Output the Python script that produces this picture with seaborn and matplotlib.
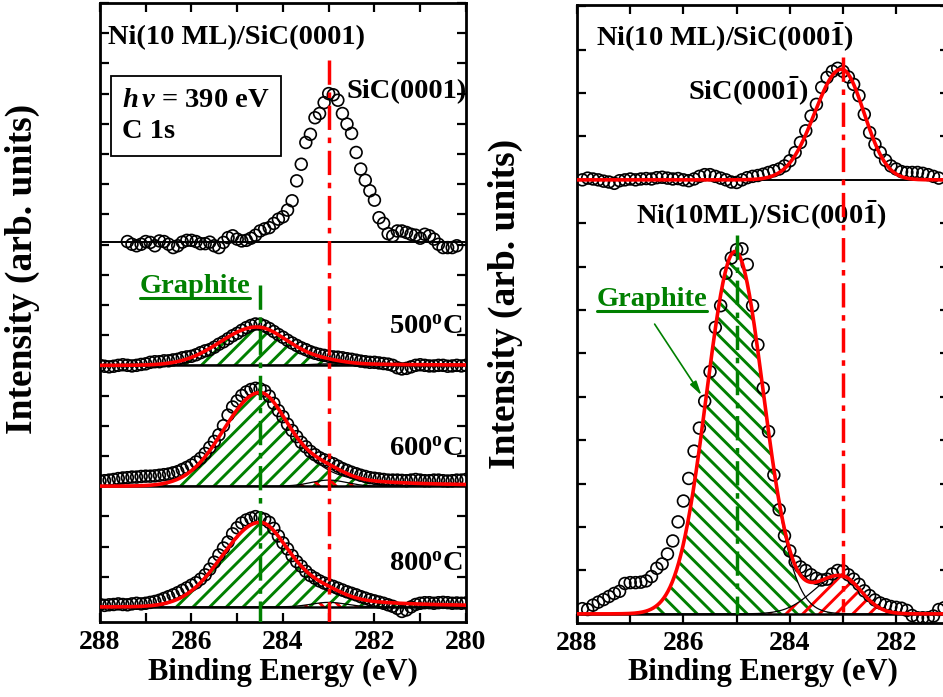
import numpy as np
import pandas as pd
import matplotlib
matplotlib.use("Agg")
import matplotlib.pyplot as plt
import seaborn as sns
from matplotlib.lines import Line2D
from matplotlib.ticker import MultipleLocator

# ------------------------------------------------------------------
# values
# energies in eV, intensities in arb. units above each baseline
# ------------------------------------------------------------------

# left panel: Ni(10 ML)/SiC(0001)
clean_start, clean_stop = 287.4, 280.2
clean_counts = [
    0.0, -0.09, -0.14, -0.09, 0.0, -0.03, -0.14, 0.02, 0.0, -0.09,
    -0.2, -0.14, -0.02, 0.04, 0.04, 0.0, -0.07, -0.07, -0.02, -0.14,
    -0.2, -0.03, 0.13, 0.19, 0.08, 0.02, 0.04, 0.11, 0.21, 0.35,
    0.42, 0.46, 0.6, 0.74, 0.82, 1.04, 1.35, 2.01, 2.56, 3.28,
    3.55, 4.1, 4.24, 4.6, 4.9, 4.86, 4.68, 4.24, 3.89, 3.58,
    2.95, 2.4, 2.03, 1.68, 1.37, 0.79, 0.6, 0.26, 0.19, 0.35,
    0.35, 0.3, 0.24, 0.21, 0.11, 0.24, 0.19, 0.08, -0.09, -0.2,
    -0.2, -0.2, -0.14,
]
clean_offset = 12.1

anneal_start, anneal_stop = 288.0, 280.0
counts_500 = [
    0.0, -0.03, -0.05, -0.03, 0.0, 0.02, 0.0, -0.02, 0.0, 0.03,
    0.05, 0.1, 0.12, 0.12, 0.15, 0.15, 0.18, 0.2, 0.25, 0.28,
    0.3, 0.35, 0.42, 0.48, 0.52, 0.6, 0.7, 0.78, 0.88, 0.98,
    1.06, 1.16, 1.25, 1.32, 1.37, 1.36, 1.3, 1.22, 1.12, 1.02,
    0.93, 0.83, 0.74, 0.66, 0.58, 0.52, 0.45, 0.4, 0.36, 0.33,
    0.3, 0.28, 0.27, 0.25, 0.22, 0.2, 0.17, 0.14, 0.12, 0.1,
    0.1, 0.08, 0.06, 0.04, 0.0, -0.08, -0.12, -0.1, -0.05, 0.0,
    0.02, 0.0, -0.02, -0.02, 0.0, 0.0, -0.03, -0.02, 0.0, -0.02,
    0.0,
]
counts_600 = [
    0.17, 0.18, 0.2, 0.22, 0.25, 0.27, 0.28, 0.3, 0.3, 0.32,
    0.33, 0.33, 0.34, 0.36, 0.38, 0.4, 0.44, 0.48, 0.55, 0.62,
    0.7, 0.8, 0.92, 1.08, 1.28, 1.48, 1.7, 2.0, 2.35, 2.62,
    2.82, 3.0, 3.12, 3.2, 3.24, 3.22, 3.15, 2.98, 2.74, 2.5,
    2.3, 2.05, 1.84, 1.64, 1.45, 1.3, 1.15, 1.04, 0.94, 0.87,
    0.8, 0.74, 0.66, 0.58, 0.52, 0.46, 0.41, 0.36, 0.32, 0.28,
    0.26, 0.24, 0.22, 0.2, 0.2, 0.2, 0.19, 0.18, 0.2, 0.22,
    0.2, 0.18, 0.18, 0.2, 0.2, 0.18, 0.17, 0.18, 0.2, 0.2,
    0.22,
]
counts_800 = [
    0.08, 0.05, 0.07, 0.08, 0.1, 0.08, 0.07, 0.1, 0.12, 0.1,
    0.12, 0.15, 0.18, 0.22, 0.28, 0.34, 0.4, 0.47, 0.55, 0.63,
    0.72, 0.8, 0.92, 1.06, 1.25, 1.48, 1.72, 1.95, 2.15, 2.42,
    2.62, 2.78, 2.88, 2.94, 2.99, 2.95, 2.9, 2.8, 2.6, 2.35,
    2.12, 1.92, 1.7, 1.5, 1.35, 1.18, 1.04, 0.95, 0.86, 0.79,
    0.73, 0.68, 0.62, 0.56, 0.5, 0.45, 0.4, 0.34, 0.29, 0.24,
    0.2, 0.16, 0.12, 0.07, 0.02, -0.05, -0.15, -0.1, 0.0, 0.08,
    0.12, 0.14, 0.14, 0.12, 0.14, 0.15, 0.14, 0.12, 0.13, 0.12,
    0.13,
]
anneal_labels = ["500$^{\\mathrm{o}}$C", "600$^{\\mathrm{o}}$C", "800$^{\\mathrm{o}}$C"]
anneal_offsets = [8.0, 4.0, 0.0]

# fit components: center, height, hwhm (high BE side), hwhm (low BE side), lorentz fraction
graphite_fits = [
    (284.57, 1.27, 0.95, 0.85, 0.3),
    (284.50, 3.10, 0.93, 0.82, 0.55),
    (284.50, 2.80, 0.97, 0.85, 0.6),
]
sic_fits = [
    (283.0, 0.05, 0.45, 0.45, 0.0),
    (283.0, 0.20, 0.45, 0.45, 0.0),
    (283.0, 0.15, 0.45, 0.45, 0.0),
]

# right panel: Ni(10 ML)/SiC(000-1)
top_start, top_stop = 287.9, 281.2
top_counts = [
    0.0, 0.04, 0.02, 0.0, -0.03, -0.05, -0.08, -0.02, 0.0, 0.02,
    0.0, 0.02, 0.03, 0.02, 0.05, 0.06, 0.04, 0.02, 0.03, 0.0,
    -0.02, 0.02, 0.08, 0.12, 0.12, 0.08, 0.04, 0.0, -0.05, -0.06,
    0.0, 0.05, 0.08, 0.1, 0.13, 0.17, 0.21, 0.25, 0.32, 0.44,
    0.63, 0.86, 1.13, 1.47, 1.74, 2.13, 2.36, 2.5, 2.57, 2.5,
    2.37, 2.2, 1.94, 1.51, 1.09, 0.82, 0.63, 0.45, 0.32, 0.25,
    0.19, 0.17, 0.17, 0.17, 0.15, 0.12, 0.08, 0.04,
]
top_offset = 10.0
top_fit = (283.03, 2.55, 0.59, 0.50, 0.0)

bottom_start, bottom_stop = 287.9, 281.1
bottom_counts = [
    0.12, 0.1, 0.2, 0.27, 0.33, 0.4, 0.47, 0.52, 0.7, 0.72,
    0.72, 0.73, 0.76, 0.86, 1.05, 1.15, 1.38, 1.68, 2.12, 2.6,
    3.12, 3.75, 4.28, 4.9, 5.58, 6.6, 7.1, 7.85, 8.2, 8.39,
    8.41, 8.05, 7.1, 6.2, 5.2, 4.2, 3.2, 2.4, 1.8, 1.45,
    1.2, 1.08, 1.0, 0.9, 0.82, 0.78, 0.8, 0.92, 1.0, 0.99,
    0.9, 0.8, 0.68, 0.53, 0.42, 0.32, 0.25, 0.21, 0.17, 0.15,
    0.13, 0.08, -0.04, -0.09, -0.09, -0.09, -0.05, 0.1, 0.14,
]
bottom_graphite_fit = (285.03, 8.35, 0.63, 0.63, 0.0)
bottom_sic_fit = (283.05, 0.88, 0.60, 0.45, 0.0)

sic_peak = 283.0
graphite_peak_left = 284.5
graphite_peak_right = 285.0

GREEN = "#008000"
RED = "#ff0000"
DASHDOT = (7, 2.2, 1.6, 2.2)


def component(e, center, height, w_hi, w_lo, eta):
    # asymmetric gauss/lorentz line shape, high BE side is pure gaussian
    d = e - center
    w = np.where(d > 0, w_hi, w_lo)
    x2 = (d / w) ** 2
    frac = np.where(d > 0, 0.0, eta)
    return height * ((1 - frac) * np.exp(-np.log(2) * x2) + frac / (1.0 + x2))


def energies(start, stop, counts):
    return np.round(np.linspace(start, stop, len(counts)), 2)


def draw_points(ax, energy, counts, offset):
    df = pd.DataFrame({"energy": energy, "intensity": np.asarray(counts) + offset})
    sns.scatterplot(data=df, x="energy", y="intensity", marker="o", s=72,
                    facecolor="none", edgecolor="black", linewidth=1.2,
                    ax=ax, zorder=3, legend=False)


def draw_fit(ax, grid, offset, parts, hatches, colors):
    total = np.zeros_like(grid)
    for p, h, c in zip(parts, hatches, colors):
        y = component(grid, *p)
        total += y
        ax.fill_between(grid, offset, offset + y, facecolor="none", edgecolor=c,
                        hatch=h, linewidth=0, zorder=1)
        ax.plot(grid, offset + y, color="black", lw=0.9, zorder=2)
    sns.lineplot(x=grid, y=offset + total, color=RED, lw=2.6, ax=ax, zorder=4)


def style_axes(ax, xlim, ylim):
    ax.set_xlim(*xlim)
    ax.set_ylim(*ylim)
    ax.xaxis.set_major_locator(MultipleLocator(2))
    ax.xaxis.set_minor_locator(MultipleLocator(1))
    ax.yaxis.set_major_locator(MultipleLocator(1))
    ax.tick_params(axis="both", which="both", direction="in", top=True, right=True,
                   length=6.5, width=1.6, labelsize=20, pad=6)
    ax.tick_params(axis="y", labelleft=False)
    for s in ax.spines.values():
        s.set_linewidth(2.0)
        s.set_color("black")
    ax.set_xlabel("Binding Energy (eV)", fontsize=22, fontweight="bold")
    ax.set_ylabel("Intensity (arb. units)", fontsize=27, fontweight="bold")


sns.set_theme(style="ticks")
plt.rcParams.update({
    "font.family": ["Liberation Serif", "DejaVu Serif"],
    "font.weight": "bold",
    "mathtext.fontset": "custom",
    "mathtext.rm": "Liberation Serif:bold",
    "mathtext.it": "Liberation Serif:italic:bold",
    "mathtext.bf": "Liberation Serif:bold",
    "hatch.linewidth": 2.1,
    "text.color": "black",
    "axes.labelcolor": "black",
    "xtick.color": "black",
    "ytick.color": "black",
})

fig = plt.figure(figsize=(9.43, 6.97), dpi=100)
ax1 = fig.add_axes([0.1060, 0.1076, 0.3881, 0.8881])
ax2 = fig.add_axes([0.6119, 0.1062, 0.3949, 0.8867])

# ---------------- left panel ----------------
grid_l = np.linspace(288, 280, 801)
ax1.axhline(clean_offset, color="black", lw=1.4, zorder=2)
draw_points(ax1, energies(clean_start, clean_stop, clean_counts), clean_counts, clean_offset)

anneal_counts = [counts_500, counts_600, counts_800]
for counts, off, g, s, lab in zip(anneal_counts, anneal_offsets, graphite_fits, sic_fits, anneal_labels):
    ax1.axhline(off, color="black", lw=1.8, zorder=2)
    draw_points(ax1, energies(anneal_start, anneal_stop, counts), counts, off)
    draw_fit(ax1, grid_l, off, [g, s], ["//", "\\\\"], [GREEN, RED])

ax1.plot([sic_peak, sic_peak], [18.1, -0.5], color=RED, lw=2.5, dashes=DASHDOT, zorder=5)
ax1.plot([graphite_peak_left, graphite_peak_left], [10.66, -0.5], color=GREEN, lw=2.5,
         dashes=DASHDOT, zorder=5)
style_axes(ax1, (288, 280), (-0.5, 20.0))
ax1.yaxis.set_label_coords(-0.164, 0.57)
ax1.xaxis.set_label_coords(0.5, -0.058)

ax1.text(287.83, 18.87, "Ni(10 ML)/SiC(0001)", fontsize=20.5, ha="left", va="center")
ax1.text(287.52, 16.26, "$h\\,\\nu$ = 390 eV\nC 1s", fontsize=20.5, ha="left", va="center",
         linespacing=1.35,
         bbox=dict(boxstyle="square,pad=0.4", facecolor="white", edgecolor="black", lw=1.3))
ax1.text(282.6, 17.05, "SiC(0001)", fontsize=20.5, ha="left", va="center")
g_left = ax1.text(285.92, 10.6, "Graphite", fontsize=20.5, color=GREEN, ha="center", va="center")
label_y = [9.24, 5.2, 1.39]
for lab, y in zip(anneal_labels, label_y):
    ax1.text(280.07, y, lab, fontsize=20.5, ha="right", va="center")

# ---------------- right panel ----------------
grid_r = np.linspace(288, 281, 701)
ax2.axhline(top_offset, color="black", lw=1.4, zorder=2)
draw_points(ax2, energies(top_start, top_stop, top_counts), top_counts, top_offset)
sns.lineplot(x=grid_r, y=top_offset + component(grid_r, *top_fit), color=RED, lw=2.6,
             ax=ax2, zorder=4)

ax2.axhline(0, color="black", lw=1.8, zorder=2)
draw_points(ax2, energies(bottom_start, bottom_stop, bottom_counts), bottom_counts, 0)
draw_fit(ax2, grid_r, 0, [bottom_graphite_fit, bottom_sic_fit], ["\\\\", "//"], [GREEN, RED])

ax2.plot([sic_peak, sic_peak], [12.83, 0.05], color=RED, lw=2.5, dashes=DASHDOT, zorder=5)
ax2.plot([graphite_peak_right, graphite_peak_right], [8.73, 0.0], color=GREEN, lw=2.5,
         dashes=DASHDOT, zorder=5)
style_axes(ax2, (288, 281), (-0.21, 14.03))
ax2.yaxis.set_label_coords(-0.145, 0.516)
ax2.xaxis.set_label_coords(0.5, -0.057)

ax2.text(287.64, 13.29, "Ni(10 ML)/SiC(000$\\bar{\\mathrm{1}}$)", fontsize=20.5, ha="left", va="center")
ax2.text(285.91, 12.03, "SiC(000$\\bar{\\mathrm{1}}$)", fontsize=20.5, ha="left", va="center")
ax2.text(286.89, 9.19, "Ni(10ML)/SiC(000$\\bar{\\mathrm{1}}$)", fontsize=20.5, ha="left", va="center")
g_right = ax2.text(286.59, 7.24, "Graphite", fontsize=20.5, color=GREEN, ha="center", va="center")
ax2.annotate("", xy=(285.63, 4.98), xytext=(286.57, 6.73),
             arrowprops=dict(arrowstyle="-|>,head_length=0.7,head_width=0.18",
                             color=GREEN, lw=1.2))

# underline the two "Graphite" labels
fig.canvas.draw()
renderer = fig.canvas.get_renderer()
W, H = fig.get_size_inches() * fig.dpi
for t in (g_left, g_right):
    bb = t.get_window_extent(renderer)
    y = bb.y0 + 1
    fig.add_artist(Line2D([bb.x0 / W, bb.x1 / W], [y / H, y / H], transform=fig.transFigure,
                          color=GREEN, lw=2.2))

fig.savefig("out.png", dpi=100)
